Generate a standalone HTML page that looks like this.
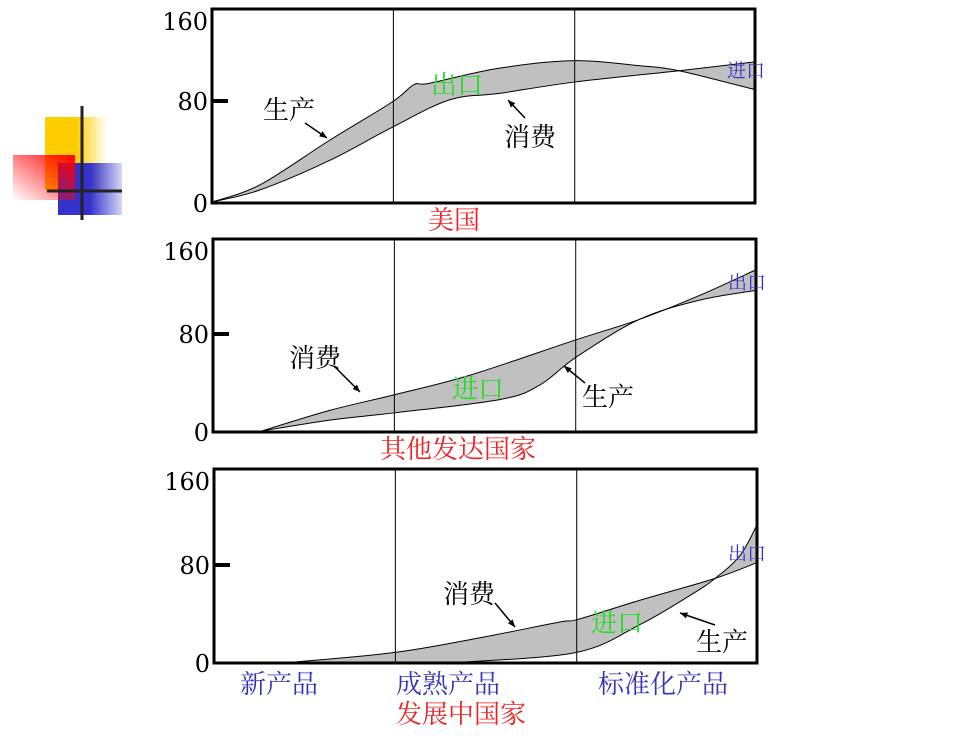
<!DOCTYPE html>
<html><head><meta charset="utf-8"><style>
body{margin:0;background:#fff;width:980px;height:735px;overflow:hidden}
svg text{font-family:"Liberation Serif","Noto Serif CJK SC","Noto Sans CJK SC",serif}
svg text.num{font-family:"DejaVu Serif","Liberation Serif",serif}
</style></head><body>
<svg id="chart" width="980" height="735">
<defs>
<linearGradient id="gy" x1="0" x2="1"><stop offset="0.5" stop-color="#ffcc00"/><stop offset="1" stop-color="#ffcc00" stop-opacity="0"/></linearGradient>
<linearGradient id="gr" x1="1" x2="0" y1="0" y2="1"><stop offset="0" stop-color="#ff0000"/><stop offset="1" stop-color="#ff0000" stop-opacity="0"/></linearGradient>
<linearGradient id="gb" x1="0" x2="1"><stop offset="0.5" stop-color="#3333cc"/><stop offset="1" stop-color="#3333cc" stop-opacity="0.2"/></linearGradient>
</defs>
<g>
<rect x="45" y="117" width="62" height="73" fill="url(#gy)"/>
<rect x="58" y="163" width="64" height="52" fill="url(#gb)"/>
<rect x="13" y="155" width="62" height="45" fill="url(#gr)"/>
<line x1="82" y1="106" x2="82" y2="220" stroke="#222" stroke-width="3"/>
<line x1="47" y1="191" x2="122" y2="191" stroke="#222" stroke-width="3"/>
</g>
</svg>
<script>
// Panel 1: 美国
const p1Prod=[[0,0],[8.8,13.5],[21.7,49],[33.1,79],[37.2,93],[40,94],[52.9,106],[66.7,112],[78.6,108],[86,104],[100,89]];
const p1Cons=[[0,0],[8.8,9.5],[21.7,33],[33.1,59],[43.8,81],[52.9,86],[66.7,95],[86,104],[100,111]];
// Panel 2: 其他发达国家
const p2Cons=[[9,0],[21.5,17],[33.5,30],[47.3,46],[66.7,75],[78.5,92],[89.7,112],[100,133]];
const p2Prod=[[9,0],[21.5,9],[33.5,15],[52.9,26],[60.2,38],[66.9,61],[78.5,92],[89.7,108],[100,116]];
// Panel 3: 发展中国家
const p3Cons=[[14.9,0],[33.5,8],[49,20],[63.7,33],[66.9,35],[78.5,51],[92.3,69],[100,82]];
const p3Prod=[[46.2,0],[66.9,8],[78.5,31],[87.7,55],[92.3,69],[96.9,88],[100,113]];
const yTicks=["160","80","0"];
const stageDividers=[33.4,66.8];

const NS="http://www.w3.org/2000/svg";
const svg=document.getElementById('chart');
function mk(tag,attrs,parent){const e=document.createElementNS(NS,tag);for(const k in attrs)e.setAttribute(k,attrs[k]);(parent||svg).appendChild(e);return e;}
function txt(s,x,y,size,color,name,parent,cls){const t=mk('text',{x:x,y:y,'font-size':size,fill:color},parent);t.textContent=s;if(cls)t.setAttribute('class',cls);


return t;}
function smooth(P,move){let d=(move?'M':'L')+P[0][0]+','+P[0][1];
 for(let i=0;i<P.length-1;i++){const p0=P[i-1]||P[i],p1=P[i],p2=P[i+1],p3=P[i+2]||p2;
  const c1=[p1[0]+(p2[0]-p0[0])/6,p1[1]+(p2[1]-p0[1])/6],c2=[p2[0]-(p3[0]-p1[0])/6,p2[1]-(p3[1]-p1[1])/6];
  d+=`C${c1[0]},${c1[1]} ${c2[0]},${c2[1]} ${p2[0]},${p2[1]}`;}
 return d;}

const panels=[
 {x0:212,y0:202,top:9,w:543,sc:1.2625,upper:p1Prod,lower:p1Cons,name:'usa'},
 {x0:213,y0:431,top:239,w:543,sc:1.2125,upper:p2Cons,lower:p2Prod,name:'developed'},
 {x0:214,y0:662,top:469,w:543,sc:1.2125,upper:p3Cons,lower:p3Prod,name:'developing'}
];
panels.forEach(p=>{
 const g=mk('g',{});
 
 
 const X=t=>p.x0+t/100*p.w, Y=v=>p.y0-v*p.sc;
 const U=p.upper.map(d=>[X(d[0]),Y(d[1])]), L=p.lower.map(d=>[X(d[0]),Y(d[1])]);
 const area=mk('path',{d:smooth(U,true)+smooth(L.slice().reverse(),false)+'Z',fill:'#c0c0c0',stroke:'none'},g);
 
 
 [U,L].forEach((s,i)=>{
  const l=mk('path',{d:smooth(s,true),fill:'none',stroke:'#000','stroke-width':1},g);
  
  
 });
 stageDividers.forEach(d=>{
  const l=mk('line',{x1:X(d),x2:X(d),y1:p.top,y2:p.y0,stroke:'#000','stroke-width':1},g);
  
  
 });
 const b=mk('rect',{x:p.x0,y:p.top,width:p.w,height:p.y0-p.top+1,fill:'none',stroke:'#000','stroke-width':3},g);
 
 
 const tk=mk('line',{x1:p.x0,x2:p.x0+16,y1:Y(80),y2:Y(80),stroke:'#000','stroke-width':4},g);
 
 
 const tv=[160,80,0];
 yTicks.forEach((s,i)=>{
  const y=i==0?p.top+21:(tv[i]==80?Y(80)+9:p.y0+10);
  const t=txt(s,p.x0-4,y,24,'#000','y-tick-label',g,'num');t.setAttribute('text-anchor','end');
 });
});
function arrow(x1,y1,x2,y2,name){const l=mk('line',{x1,y1,x2,y2,stroke:'#000','stroke-width':1.5});


const a=Math.atan2(y2-y1,x2-x1),s=8;
const h=mk('polygon',{points:`${x2},${y2} ${x2-s*Math.cos(a-0.4)},${y2-s*Math.sin(a-0.4)} ${x2-s*Math.cos(a+0.4)},${y2-s*Math.sin(a+0.4)}`,fill:'#000'});

}
txt('生产',263,119,26,'#000','production-label');arrow(305,123,327,138,'production-arrow');
txt('消费',504,146,26,'#000','consumption-label');arrow(525,118,508,100,'consumption-arrow');
txt('出口',431,94,26,'#22dd22','export-label');
txt('进口',727,77,19,'#3333cc','import-label');
txt('美国',428,229,26,'#ee2222','panel-title-usa');
txt('消费',289,367,26,'#000','consumption-label');arrow(335,367,360,392,'consumption-arrow');
txt('进口',452,398,26,'#22dd22','import-label');
txt('生产',582,406,26,'#000','production-label');arrow(585,383,564,366,'production-arrow');
txt('出口',728,289,19,'#3333cc','export-label');
txt('其他发达国家',380,458,26,'#ee2222','panel-title-developed');
txt('消费',443,603,26,'#000','consumption-label');arrow(495,603,515,627,'consumption-arrow');
txt('进口',591,632,26,'#22dd22','import-label');
txt('生产',696,651,26,'#000','production-label');arrow(715,625,680,613,'production-arrow');
txt('出口',728,560,19,'#3333cc','export-label');
txt('新产品',240,693,26,'#3333bb','stage-label-new');
txt('成熟产品',396,693,26,'#3333bb','stage-label-mature');
txt('标准化产品',598,693,26,'#3333bb','stage-label-standardized');
txt('发展中国家',396,723,26,'#ee2222','panel-title-developing');
</script>
</body></html>
